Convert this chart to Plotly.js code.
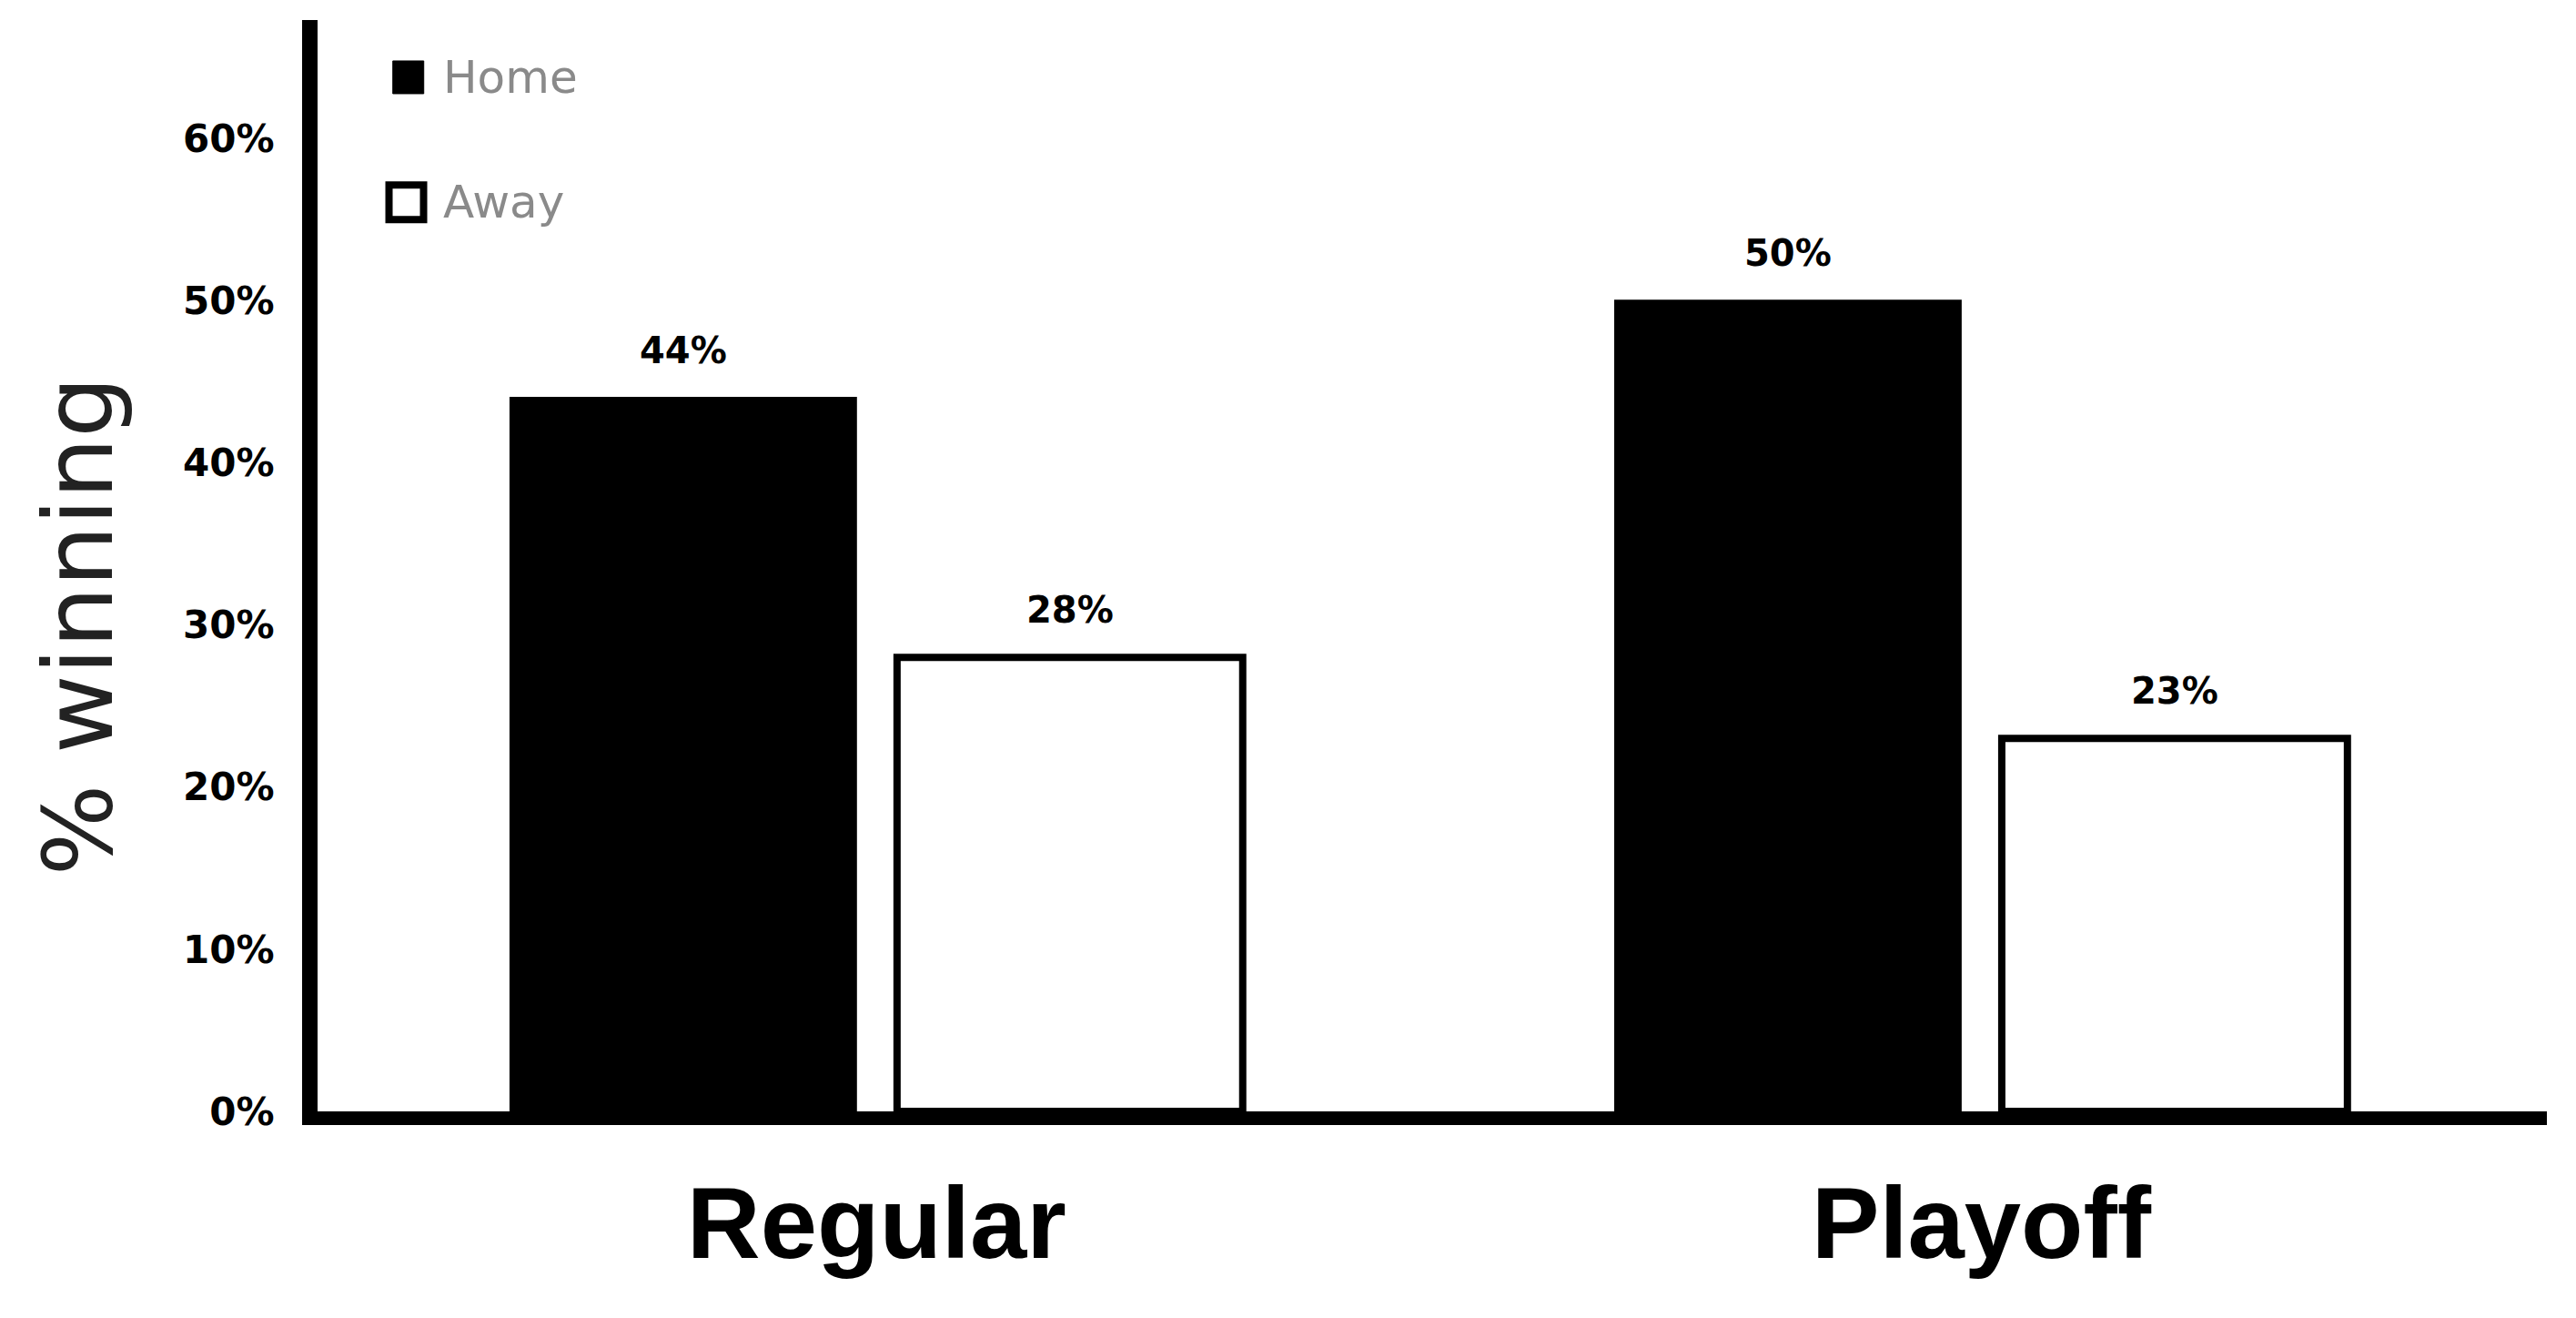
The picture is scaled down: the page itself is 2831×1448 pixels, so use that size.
<!DOCTYPE html>
<html>
<head>
<meta charset="utf-8">
<script src="https://cdn.plot.ly/plotly-3.0.1.min.js"></script>
<style>
  html, body { margin: 0; padding: 0; background: #fff; }
  #chart { width: 2831px; height: 1448px; }
</style>
</head>
<body>
<div id="chart"></div>
<script>
const categories = ["Regular", "Playoff"];
const seriesNames = ["Home", "Away"];
const homeValues = [0.44, 0.50];
const awayValues = [0.28, 0.23];
const yTicks = [0, 0.1, 0.2, 0.3, 0.4, 0.5, 0.6];

const barGap = 0.30;
const groupGap = 0.106;

const traces = [
  {
    x: categories,
    y: homeValues,
    name: seriesNames[0],
    type: "bar",
    marker: { color: "#000000", line: { color: "#000000", width: 2 } },
    showlegend: false,
    hoverinfo: "none",
  },
  {
    x: categories,
    y: awayValues,
    name: seriesNames[1],
    type: "bar",
    marker: { color: "#ffffff", line: { color: "#000000", width: 8 } },
    showlegend: false,
    hoverinfo: "none",
  },
];

// value labels above each bar
const annotations = [];
const offset = (1 - barGap) / 4;
[homeValues, awayValues].forEach((vals, si) => {
  vals.forEach((v, ci) => {
    annotations.push({
      x: ci + (si === 0 ? -offset : offset),
      y: v,
      xref: "x",
      yref: "y",
      text: Math.round(v * 100) + "%",
      showarrow: false,
      yanchor: "middle",
      yshift: 52,
      font: { family: "DejaVu Sans", size: 40, color: "#000", weight: "bold" },
    });
  });
});

// y title
annotations.push({
  x: -0.107,
  y: 0.445,
  xref: "paper",
  yref: "paper",
  text: "% winning",
  textangle: -90,
  showarrow: false,
  xanchor: "center",
  yanchor: "middle",
  font: { family: "DejaVu Sans", size: 106, color: "#222" },
});

// hand-made legend (plotly's bar swatch is too small)
const legendY = [0.9475, 0.833];
seriesNames.forEach((name, i) => {
  annotations.push({
    x: 0.0555,
    y: legendY[i],
    xref: "paper",
    yref: "paper",
    text: name,
    showarrow: false,
    xanchor: "left",
    yanchor: "middle",
    font: { family: "DejaVu Sans", size: 50, color: "#8a8a8a" },
  });
});

const shapes = [
  {
    type: "rect", xref: "paper", yref: "paper",
    xsizemode: "pixel", ysizemode: "pixel",
    xanchor: 0.0407, yanchor: legendY[0],
    x0: -17, x1: 17, y0: -18, y1: 18,
    fillcolor: "#000", line: { color: "#000", width: 1 },
  },
  {
    type: "rect", xref: "paper", yref: "paper",
    xsizemode: "pixel", ysizemode: "pixel",
    xanchor: 0.0398, yanchor: legendY[1],
    x0: -19, x1: 19, y0: -19, y1: 19,
    fillcolor: "#fff", line: { color: "#000", width: 8 },
  },
];

const layout = {
  width: 2831,
  height: 1448,
  margin: { l: 349, r: 32, t: 22, b: 227 },
  paper_bgcolor: "#fff",
  plot_bgcolor: "#fff",
  barmode: "group",
  bargap: barGap,
  bargroupgap: groupGap,
  showlegend: false,
  xaxis: {
    type: "category",
    range: [-0.506, 1.512],
    showline: true,
    linecolor: "#000",
    linewidth: 15,
    ticks: "",
    showgrid: false,
    zeroline: false,
    ticklabelstandoff: 12,
    tickfont: { family: "Liberation Sans", size: 112, color: "#000", weight: "bold" },
  },
  yaxis: {
    range: [0, 0.673],
    tickvals: yTicks,
    tickformat: ".0%",
    showline: true,
    linecolor: "#000",
    linewidth: 17,
    ticks: "",
    showgrid: false,
    zeroline: false,
    ticklabelstandoff: 22,
    tickfont: { family: "DejaVu Sans", size: 42, color: "#000", weight: "bold" },
  },
  annotations: annotations,
  shapes: shapes,
};

Plotly.newPlot("chart", traces, layout, { displayModeBar: false, staticPlot: true });
</script>
</body>
</html>
